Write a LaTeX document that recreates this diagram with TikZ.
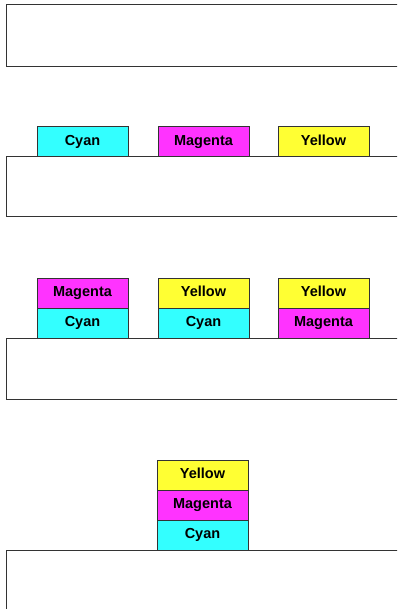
\documentclass[tikz,border=0pt]{standalone}
\usepackage{fontspec}
\setmainfont{Liberation Sans}
\definecolor{cy}{HTML}{33FFFF}
\definecolor{mg}{HTML}{FF33FF}
\definecolor{yl}{HTML}{FFFF33}
\definecolor{edge}{HTML}{333333}
\begin{document}
\begin{tikzpicture}[x=1pt,y=-1pt,
  ink/.style={draw=edge,line width=1pt},
  chip/.style={ink,minimum width=91pt,minimum height=30pt,text height=10.5pt,text depth=3pt,inner sep=0pt,outer sep=0pt,anchor=north west,font=\bfseries\fontsize{14.5}{16}\selectfont},
  cyb/.style={chip,fill=cy},
  mgb/.style={chip,fill=mg},
  ylb/.style={chip,fill=yl}]
\useasboundingbox (0,0) rectangle (397,609);
\clip (0,0) rectangle (397,609);
% substrates
\draw[ink] (420,5) -- (6.5,5) -- (6.5,67) -- (420,67);
\draw[ink] (420,157) -- (6.5,157) -- (6.5,217) -- (420,217);
\draw[ink] (420,338) -- (6.5,338) -- (6.5,399) -- (420,399);
\draw[ink] (420,550) -- (6.5,550) -- (6.5,620);
% row 2
\node[cyb] (c2) at (37,127) {Cyan};
\node[mgb] (m2) at (158,127) {Magenta};
\node[ylb] (y2) at (278,127) {Yellow};
% row 3
\node[mgb] (m3a) at (37,278) {Magenta};
\node[cyb] (c3a) at (37,308) {Cyan};
\node[ylb] (y3b) at (158,278) {Yellow};
\node[cyb] (c3b) at (158,308) {Cyan};
\node[ylb] (y3c) at (278,278) {Yellow};
\node[mgb] (m3c) at (278,308) {Magenta};
% row 4
\node[ylb] (y4) at (157,460) {Yellow};
\node[mgb] (m4) at (157,490) {Magenta};
\node[cyb] (c4) at (157,520) {Cyan};
\end{tikzpicture}
\end{document}
